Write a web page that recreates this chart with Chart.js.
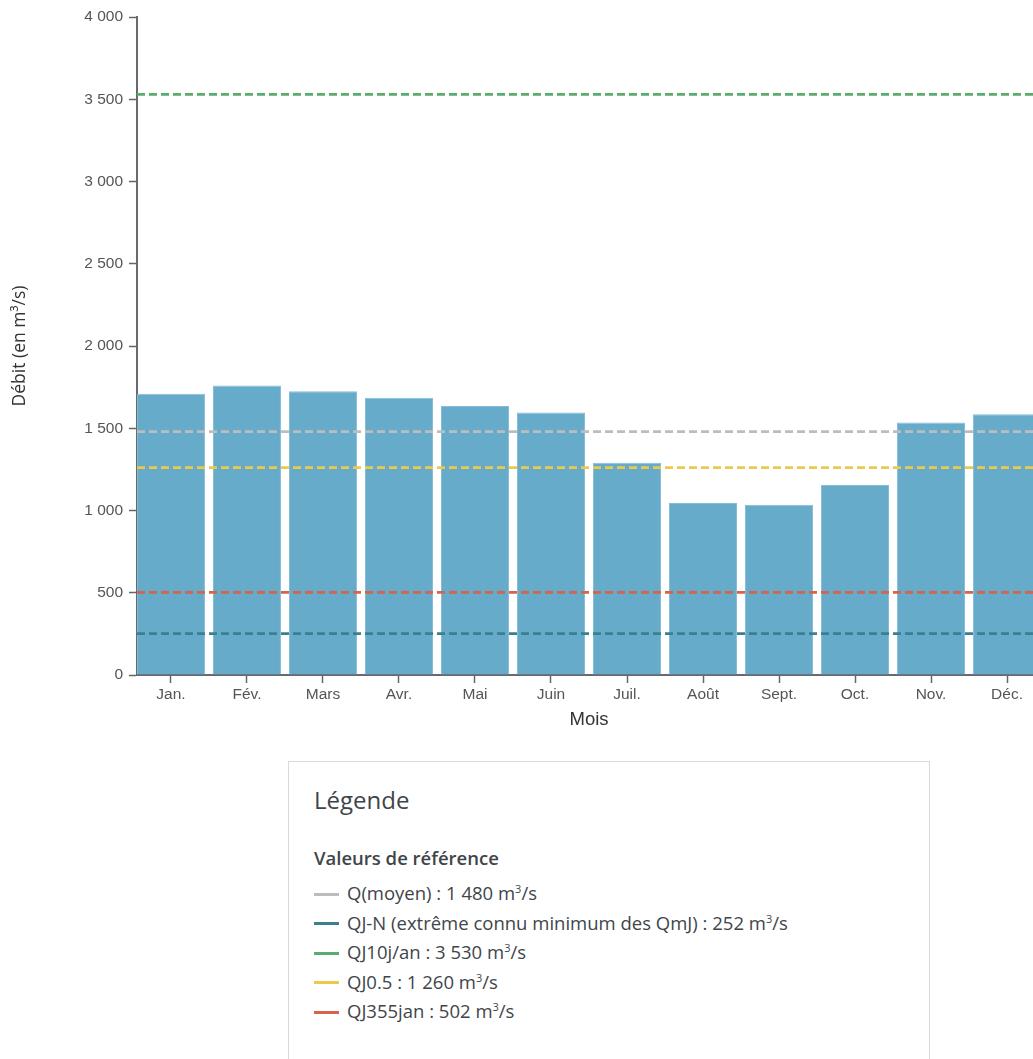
<!DOCTYPE html>
<html lang="fr">
<head>
<meta charset="utf-8">
<title>Débit mensuel</title>
<script src="https://cdn.jsdelivr.net/npm/chart.js@4.4.1/dist/chart.umd.min.js"></script>
<style>
  html, body { margin: 0; padding: 0; background: #fff; overflow: hidden; }
  #wrap { position: relative; width: 1033px; height: 1059px; overflow: hidden; }
  #chart { position: absolute; left: 0; top: 0; }
  .legend-box {
    position: absolute; left: 288px; top: 761px; width: 642px; height: 320px;
    border: 1px solid #d9d9d9; box-sizing: border-box;
    font-family: "Open Sans", "Noto Sans", sans-serif; color: #40454a;
  }
  .legend-box h2 { position: absolute; left: 25px; top: 20px; margin: 0; font-size: 24px; font-weight: 400; line-height: 36px; }
  .legend-box h3 { position: absolute; left: 25px; top: 83px; margin: 0; font-size: 18.5px; font-weight: 600; line-height: 26px; }
  .legend-box ul { position: absolute; left: 25px; top: 114px; margin: 0; padding: 0; list-style: none; }
  .legend-box li { height: 29.5px; line-height: 26px; font-size: 18.5px; white-space: nowrap; }
  .legend-box .sw { display: inline-block; width: 25px; height: 3px; vertical-align: middle; margin-right: 8px; position: relative; top: -1px; }
  .legend-box sup { font-size: 11px; }
</style>
</head>
<body>
<div id="wrap">
  <canvas id="chart" width="1041" height="740"></canvas>
  <div class="legend-box">
    <h2>Légende</h2>
    <h3>Valeurs de référence</h3>
    <ul id="legend-list"></ul>
  </div>
</div>
<script>
// Monthly mean flow (m³/s)
const months = ['Jan.', 'Fév.', 'Mars', 'Avr.', 'Mai', 'Juin', 'Juil.', 'Août', 'Sept.', 'Oct.', 'Nov.', 'Déc.'];
const flows = [1710, 1760, 1725, 1685, 1635, 1595, 1290, 1045, 1035, 1155, 1535, 1585];

// Reference values
const refNames = ['Q(moyen)', 'QJ-N (extrême connu minimum des QmJ)', 'QJ10j/an', 'QJ0.5', 'QJ355jan'];
const refValues = [1480, 252, 3530, 1260, 502];
const refColors = ['#bdbdbd', '#3a8190', '#5aab6c', '#ebc94a', '#d9634a'];

const yTicks = [0, 500, 1000, 1500, 2000, 2500, 3000, 3500, 4000];

const fmt = v => String(v).replace(/\B(?=(\d{3})+(?!\d))/g, ' ');

// x range: bars sit flush against the y axis on the left
const xMin = -0.447;
const xMax = 11.447;

const tickFont = { family: 'Liberation Sans, Arial, sans-serif', size: 15.5 };

const datasets = [{
  type: 'bar',
  data: months.map((m, i) => ({ x: i, y: flows[i] })),
  backgroundColor: '#67abcb',
  borderColor: '#86bdd8',
  borderWidth: 1,
  borderSkipped: 'bottom',
  categoryPercentage: 1,
  barPercentage: 68 / 76,
  order: 2
}];

refValues.forEach((v, i) => {
  datasets.push({
    type: 'line',
    data: [{ x: xMin, y: v }, { x: xMax, y: v }],
    borderColor: refColors[i],
    borderWidth: 2.75,
    borderDash: [8, 4],
    pointRadius: 0,
    order: 1
  });
});

new Chart(document.getElementById('chart'), {
  type: 'bar',
  data: { datasets },
  options: {
    responsive: false,
    animation: false,
    devicePixelRatio: 1,
    layout: { padding: { top: 17, left: 0, right: 0, bottom: 0 } },
    plugins: { legend: { display: false }, tooltip: { enabled: false } },
    scales: {
      x: {
        type: 'linear',
        offset: false,
        min: xMin,
        max: xMax,
        afterBuildTicks: s => { s.ticks = months.map((m, i) => ({ value: i })); },
        afterFit: s => { s.height = 65; },
        grid: { display: true, offset: false, drawOnChartArea: false, tickLength: 8, color: '#666', tickWidth: 1.5 },
        border: { display: true, color: '#66696e', width: 2 },
        ticks: {
          padding: 2,
          color: '#555',
          font: tickFont,
          maxRotation: 0,
          callback: v => months[v] ?? ''
        },
        title: {
          display: true, text: 'Mois', color: '#333',
          font: { family: 'Liberation Sans, Arial, sans-serif', size: 18.5 },
          padding: { top: 0, bottom: 9 }
        }
      },
      y: {
        min: 0,
        max: 4000,
        afterBuildTicks: s => { s.ticks = yTicks.map(v => ({ value: v })); },
        afterFit: s => { s.width = 137; },
        grid: { display: true, drawOnChartArea: false, tickLength: 8, color: '#666', tickWidth: 1.5 },
        border: { display: true, color: '#66696e', width: 2 },
        ticks: {
          padding: 6,
          color: '#555',
          font: tickFont,
          callback: v => fmt(v)
        },
        title: {
          display: true, text: 'Débit (en m³/s)', color: '#333',
          font: { family: 'Open Sans, sans-serif', size: 17.5 },
          padding: { top: 10, bottom: 0 }
        }
      }
    }
  }
});

// HTML legend for the reference lines
const list = document.getElementById('legend-list');
refNames.forEach((name, i) => {
  const li = document.createElement('li');
  li.innerHTML = '<span class="sw" style="background:' + refColors[i] + '"></span>' +
    name + ' : ' + fmt(refValues[i]) + ' m<sup>3</sup>/s';
  list.appendChild(li);
});
</script>
</body>
</html>
